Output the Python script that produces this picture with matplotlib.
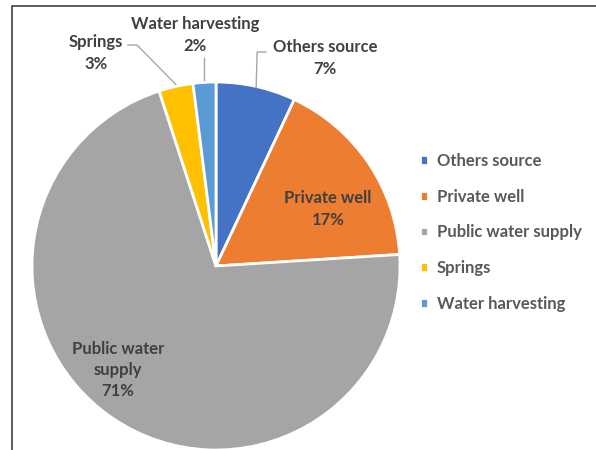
import matplotlib
matplotlib.use("Agg")
import matplotlib.pyplot as plt
import numpy as np

labels = ["Others source", "Private well", "Public water supply", "Springs", "Water harvesting"]
values = [7, 17, 71, 3, 2]
colors = ["#4472C4", "#ED7D31", "#A5A5A5", "#FFC000", "#5B9BD5"]

TXT = "#404040"
plt.rcParams["font.family"] = ["Lato", "DejaVu Sans"]
plt.rcParams["font.weight"] = "bold"

W, H = 596, 450
fig = plt.figure(figsize=(W / 100, H / 100), dpi=100)

cx, cy, r = 216, 266, 184
# pie axes in normal y orientation
pax = fig.add_axes([0, 0, 1, 1])
wedges, _ = pax.pie(values, colors=colors, startangle=90, counterclock=False,
                    center=(cx, H - cy), radius=r, frame=True,
                    wedgeprops=dict(edgecolor="white", linewidth=2))
pax.set_xlim(0, W)
pax.set_ylim(0, H)
pax.axis("off")

# overlay axes in pixel coords (y down) for labels
ax = fig.add_axes([0, 0, 1, 1])
ax.patch.set_alpha(0)
ax.set_xlim(0, W)
ax.set_ylim(H, 0)
ax.axis("off")


def edge_point(w):
    ang = np.deg2rad((w.theta1 + w.theta2) / 2)
    return cx + r * np.cos(ang), cy - r * np.sin(ang)


fs = 12
kw = dict(ha="center", va="center", fontsize=fs, color=TXT, fontweight="bold", linespacing=1.4)
# inside labels
ax.text(328, 209, "Private well\n17%", **kw)
ax.text(118, 370, "Public water\nsupply\n71%", **kw)

# outside labels with leader lines
lc = "#A6A6A6"
x0, y0 = edge_point(wedges[0])
ax.plot([x0, x0 + 1, 266], [y0 + 1, 52, 52], color=lc, lw=1)
ax.text(325, 58, "Others source\n7%", **kw)

x4, y4 = edge_point(wedges[4])
ax.plot([x4, x4], [y4 - 2, 58], color=lc, lw=1)
ax.text(195, 35, "Water harvesting\n2%", **kw)

x3, y3 = edge_point(wedges[3])
ax.plot([x3, 137, 128], [y3 - 2, 45, 45], color=lc, lw=1)
ax.text(96, 53, "Springs\n3%", **kw)

# frame (left and top edges visible)
ax.plot([12, 12, W], [H, 6, 6], color="#404040", lw=1.2, clip_on=False)

leg = fig.legend(wedges, labels, loc="upper left", bbox_to_anchor=(420 / W, 1 - 153 / H),
                 frameon=False, fontsize=fs, labelspacing=1.18, handlelength=0.5,
                 handleheight=0.5, handletextpad=0.5, borderaxespad=0, borderpad=0)
for t in leg.get_texts():
    t.set_color("#595959")
    t.set_fontweight("bold")

fig.savefig("out.png", dpi=100)
